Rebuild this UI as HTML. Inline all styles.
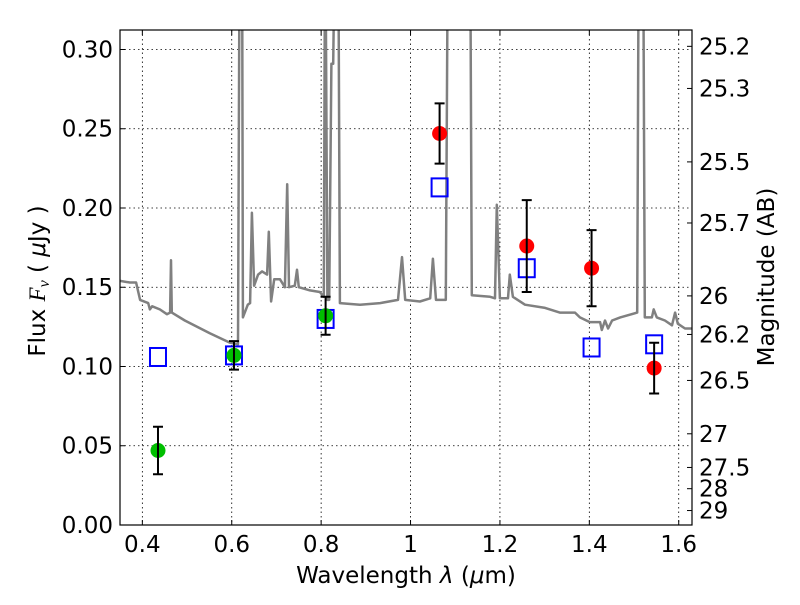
<!DOCTYPE html>
<html><head><meta charset="utf-8"><style>
body{margin:0;background:#fff}
text{font-family:"DejaVu Sans","Liberation Sans",sans-serif;fill:#000}
</style></head><body>
<svg id="chart" width="800" height="600" xmlns="http://www.w3.org/2000/svg">
<rect width="800" height="600" fill="#fff"/>
<defs><clipPath id="clip"><rect x="120" y="30" width="572" height="495"/></clipPath></defs>
<g id="grid"></g>
<g id="spec" clip-path="url(#clip)"></g>
<g id="marks"></g>
<rect x="120" y="30" width="572" height="495" fill="none" stroke="#000" stroke-width="1.2"/>
<g id="axes"></g>
<text x="406" y="583" text-anchor="middle" font-size="23">Wavelength  <tspan font-style="italic">λ</tspan> (<tspan font-style="italic">μ</tspan>m)</text>
<text transform="translate(45,281) rotate(-90)" text-anchor="middle" font-size="23">Flux  <tspan font-style="italic" font-family="Liberation Serif">F<tspan font-size="16" dy="4">ν</tspan></tspan><tspan dy="-4">  (  </tspan><tspan font-style="italic">μ</tspan>Jy )</text>
<text transform="translate(774,277) rotate(-90)" text-anchor="middle" font-size="23">Magnitude (AB)</text>
</svg>
<script>
const specLam=[0.350,0.372,0.386,0.390,0.395,0.413,0.417,0.422,0.439,0.455,0.462,0.464,0.466,0.495,0.551,0.596,0.614,0.618,0.623,0.625,0.636,0.641,0.645,0.650,0.659,0.668,0.679,0.683,0.688,0.695,0.708,0.719,0.724,0.728,0.741,0.746,0.750,0.775,0.797,0.806,0.809,0.814,0.818,0.823,0.827,0.832,0.838,0.842,0.887,0.932,0.972,0.981,0.988,1.021,1.044,1.050,1.057,1.079,1.084,1.133,1.137,1.178,1.189,1.193,1.200,1.218,1.222,1.229,1.256,1.301,1.334,1.368,1.379,1.401,1.424,1.428,1.435,1.442,1.451,1.469,1.507,1.511,1.520,1.524,1.540,1.544,1.551,1.569,1.585,1.592,1.598,1.614,1.630];
const specFlux=[0.154,0.153,0.153,0.148,0.142,0.140,0.136,0.138,0.136,0.133,0.134,0.167,0.134,0.129,0.121,0.115,0.114,0.4,0.4,0.131,0.139,0.140,0.197,0.151,0.158,0.160,0.158,0.185,0.141,0.155,0.155,0.150,0.215,0.150,0.151,0.161,0.150,0.148,0.147,0.144,0.4,0.142,0.142,0.291,0.291,0.4,0.4,0.140,0.139,0.140,0.142,0.169,0.142,0.141,0.143,0.168,0.142,0.142,0.4,0.4,0.145,0.144,0.143,0.202,0.143,0.143,0.158,0.144,0.139,0.137,0.134,0.134,0.131,0.128,0.128,0.123,0.129,0.124,0.129,0.131,0.134,0.4,0.4,0.131,0.131,0.136,0.131,0.129,0.126,0.134,0.127,0.124,0.124];
const greenLam=[0.435,0.605,0.81];
const greenFlux=[0.047,0.107,0.132];
const greenErr=[0.015,0.009,0.012];
const redLam=[1.065,1.26,1.405,1.545];
const redFlux=[0.247,0.176,0.162,0.099];
const redErr=[0.019,0.029,0.024,0.016];
const modelLam=[0.435,0.605,0.81,1.065,1.26,1.405,1.545];
const modelFlux=[0.106,0.107,0.130,0.213,0.162,0.112,0.114];
const xTicks=[0.4,0.6,0.8,1.0,1.2,1.4,1.6];
const xTickLabels=["0.4","0.6","0.8","1","1.2","1.4","1.6"];
const yTicks=[0,0.05,0.10,0.15,0.20,0.25,0.30];
const yTickLabels=["0.00","0.05","0.10","0.15","0.20","0.25","0.30"];
const magTicks=[25.2,25.3,25.5,25.7,26,26.2,26.5,27,27.5,28,29];

const X0=120,X1=692,Y0=525,Y1=30,LMIN=0.35,LMAX=1.6297,FMAX=0.3123;
const sx=l=>X0+(l-LMIN)/(LMAX-LMIN)*(X1-X0);
const sy=f=>Y0-f/FMAX*(Y0-Y1);
const NS="http://www.w3.org/2000/svg";
function mk(parent,tag,attrs){const e=document.createElementNS(NS,tag);for(const k in attrs)e.setAttribute(k,attrs[k]);document.getElementById(parent).appendChild(e);return e;}

xTicks.forEach((t,i)=>{const x=sx(t);
 let g=mk('grid','line',{x1:x,x2:x,y1:Y1,y2:Y0,stroke:'#000','stroke-width':0.8,'stroke-dasharray':'1.5,3'});
 
 mk('axes','line',{x1:x,x2:x,y1:Y0,y2:Y0-5,stroke:'#000'});
 mk('axes','line',{x1:x,x2:x,y1:Y1,y2:Y1+5,stroke:'#000'});
 let tx=mk('axes','text',{x:x,y:Y0+27,'text-anchor':'middle','font-size':23});tx.textContent=xTickLabels[i];
 
});
yTicks.forEach((t,i)=>{const y=sy(t);
 let g=mk('grid','line',{x1:X0,x2:X1,y1:y,y2:y,stroke:'#000','stroke-width':0.8,'stroke-dasharray':'1.5,3'});
 
 mk('axes','line',{x1:X0,x2:X0+5,y1:y,y2:y,stroke:'#000'});
 let tx=mk('axes','text',{x:X0-7,y:y+8,'text-anchor':'end','font-size':23});tx.textContent=yTickLabels[i];
 
});
magTicks.forEach(m=>{const f=Math.pow(10,(23.9-m)/2.5);const y=sy(f);
 mk('axes','line',{x1:X1,x2:X1-5,y1:y,y2:y,stroke:'#000'});
 let tx=mk('axes','text',{x:X1+7,y:y+8,'font-size':23});tx.textContent=String(m);
 
});
let d=specLam.map((l,i)=>(i?'L':'M')+sx(l).toFixed(1)+' '+sy(specFlux[i]).toFixed(1)).join(' ');
let sp=mk('spec','path',{d:d,fill:'none',stroke:'#808080','stroke-width':2.5,'stroke-linejoin':'round'});


modelLam.forEach((l,i)=>{const x=sx(l),y=sy(modelFlux[i]);
 let r=mk('marks','rect',{x:x-8,y:y-9,width:16,height:18,fill:'none',stroke:'#0000ff','stroke-width':2});
 
});
function pts(lams,fl,er,col,name){lams.forEach((l,i)=>{const x=sx(l),y=sy(fl[i]);
 let c=mk('marks','circle',{cx:x,cy:y,r:7.5,fill:col});
 
 const yt=sy(fl[i]+er[i]),yb=sy(fl[i]-er[i]);
 let e=mk('marks','path',{d:`M${x} ${yt}L${x} ${yb}M${x-5} ${yt}L${x+5} ${yt}M${x-5} ${yb}L${x+5} ${yb}`,stroke:'#000','stroke-width':2,fill:'none'});
 
});}
pts(greenLam,greenFlux,greenErr,'#00bf00','observed-point-green');
pts(redLam,redFlux,redErr,'#ff0000','observed-point-red');
</script>
</body></html>
